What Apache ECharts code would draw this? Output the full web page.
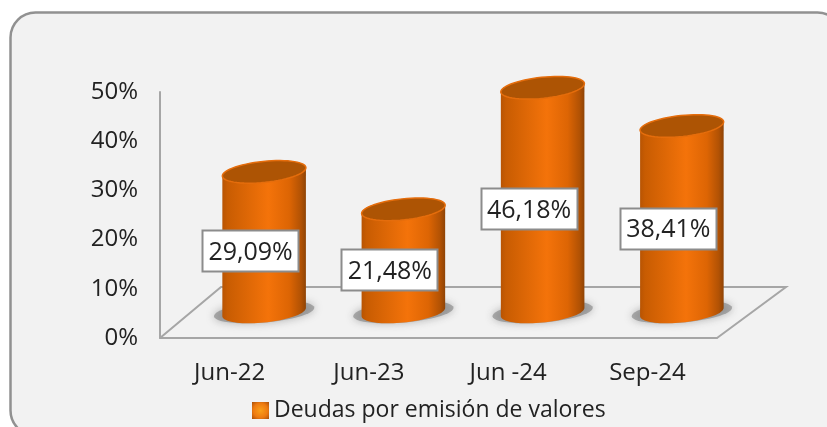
<!DOCTYPE html>
<html>
<head>
<meta charset="utf-8">
<style>html,body{margin:0;padding:0;background:#fff}#c{width:827px;height:427px}</style>
<script src="https://cdn.jsdelivr.net/npm/echarts@6/dist/echarts.min.js"></script>
</head>
<body>
<div id="c"></div>
<script>
const categories = ['Jun-22', 'Jun-23', 'Jun -24', 'Sep-24'];
const seriesName = 'Deudas por emisión de valores';
const values = [29.09, 21.48, 46.18, 38.41];
const yTicks = [0, 10, 20, 30, 40, 50];

const FONT = '"Open Sans", "Noto Sans", sans-serif';
const DEPTH_X = 69, DEPTH_Y = 51;
const RX = 42, RY = 10.5, TILT = -6 * Math.PI / 180;

function ellipsePts(cx, cy, t0, t1, n) {
  const pts = [], ca = Math.cos(TILT), sa = Math.sin(TILT);
  for (let i = 0; i <= n; i++) {
    const t = t0 + (t1 - t0) * i / n;
    pts.push([cx + RX * Math.cos(t) * ca - RY * Math.sin(t) * sa,
              cy + RX * Math.cos(t) * sa + RY * Math.sin(t) * ca]);
  }
  return pts;
}
const tR = Math.atan2(-RY * Math.sin(TILT), RX * Math.cos(TILT));

function renderFloor(params, api) {
  const c = params.coordSys;
  const L = c.x, R = c.x + c.width, B = c.y + c.height;
  return { type: 'polyline', silent: true,
    shape: { points: [[L, B], [L + DEPTH_X - 8, B - DEPTH_Y], [R + DEPTH_X, B - DEPTH_Y], [R, B]] },
    style: { stroke: '#a6a6a6', lineWidth: 2, fill: null } };
}

function renderCyl(params, api) {
  const v = api.value(1);
  const base = api.coord([api.value(0), 0]);
  const top = api.coord([api.value(0), v]);
  const cx = base[0] + 34.5, by = base[1] - 26, ty = top[1] - 23;
  const body = ellipsePts(cx, by, tR, tR + Math.PI, 40)
    .concat(ellipsePts(cx, ty, tR + Math.PI, tR + 2 * Math.PI, 40));
  const bodyFill = { type: 'linear', x: 0, y: 0, x2: 1, y2: 0, colorStops: [
    { offset: 0, color: '#b85403' }, { offset: 0.06, color: '#c85c02' },
    { offset: 0.55, color: '#f4730a' }, { offset: 0.8, color: '#dd6504' },
    { offset: 0.94, color: '#b25204' }, { offset: 1, color: '#8f4406' } ] };
  const label = v.toFixed(2).replace('.', ',') + '%';
  const ly = api.coord([api.value(0), v / 2])[1] - 15.5;
  const lx = base[0] + 21;
  return { type: 'group', children: [
    { type: 'polygon', silent: true,
      shape: { points: ellipsePts(cx, by, 0, 2 * Math.PI, 50).map(p => [cx + (p[0] - cx) * 1.2, p[1]]) },
      style: { fill: 'rgba(120,120,120,0.55)', shadowBlur: 9, shadowColor: 'rgba(110,110,110,0.9)' } },
    { type: 'polygon', silent: true, shape: { points: body },
      style: { fill: bodyFill } },
    { type: 'polygon', silent: true,
      shape: { points: ellipsePts(cx, ty, 0, 2 * Math.PI, 60) },
      style: { fill: '#ad5404', stroke: '#e56d0c', lineWidth: 1.5 } },
    { type: 'rect', silent: true,
      shape: { x: Math.round(lx - 48.5) + 0.5, y: Math.round(ly - 20.5) + 0.5, width: 96, height: 41 },
      style: { fill: '#ffffff', stroke: '#8c8c8c', lineWidth: 2 } },
    { type: 'text', silent: true,
      style: { text: label, x: lx, y: ly + 2, align: 'center', verticalAlign: 'middle',
               font: '25px ' + FONT, fill: '#222222' } }
  ] };
}

const chart = echarts.init(document.getElementById('c'), null, { renderer: 'canvas' });
chart.setOption({
  animation: false,
  backgroundColor: '#ffffff',
  graphic: [{ type: 'rect', z: -10, silent: true,
    shape: { x: 10.5, y: 12.5, width: 832, height: 423, r: 25 },
    style: { fill: '#f2f2f2', stroke: '#919191', lineWidth: 2.5 } }],
  grid: { left: 160, top: 92, width: 557, height: 246 },
  xAxis: { type: 'category', data: categories,
    axisLine: { show: true, lineStyle: { color: '#a6a6a6', width: 2 } },
    axisTick: { show: false },
    axisLabel: { color: '#222222', fontFamily: FONT, fontSize: 24, margin: 23 } },
  yAxis: { type: 'value', min: yTicks[0], max: yTicks[yTicks.length - 1], interval: 10,
    axisLine: { show: true, lineStyle: { color: '#a6a6a6', width: 2 } },
    axisTick: { show: false }, splitLine: { show: false },
    axisLabel: { color: '#222222', fontFamily: FONT, fontSize: 24, margin: 22,
      padding: [5, 0, 0, 0], formatter: '{value}%' } },
  legend: { data: [{ name: seriesName, icon: 'rect' }], left: 247, top: 394,
    itemWidth: 17, itemHeight: 17, itemGap: 6,
    textStyle: { color: '#222222', fontFamily: FONT, fontSize: 23 } },
  series: [
    { type: 'custom', name: 'floor', data: [[0, 0]], renderItem: renderFloor, z: 1, silent: true },
    { type: 'custom', name: seriesName, z: 3, silent: true,
      data: categories.map((c, i) => [i, values[i]]),
      encode: { x: 0, y: 1 }, renderItem: renderCyl,
      itemStyle: { color: { type: 'radial', x: 0.5, y: 0.5, r: 0.7, colorStops: [
        { offset: 0, color: '#f9a01a' }, { offset: 0.6, color: '#ee7a10' }, { offset: 1, color: '#a9500a' } ] } } }
  ]
});
</script>
</body>
</html>
